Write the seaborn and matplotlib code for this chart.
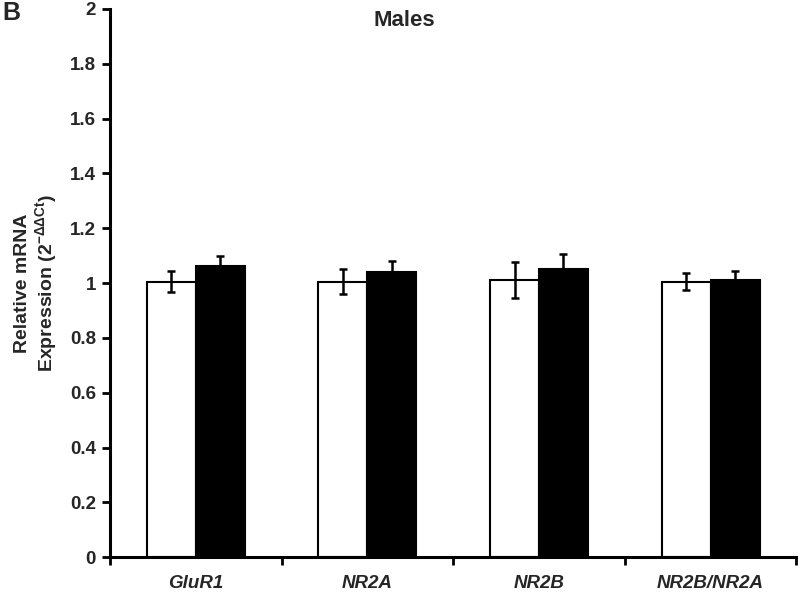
"""Relative mRNA expression in males, two groups per gene."""

import matplotlib
matplotlib.use("Agg")
import matplotlib.pyplot as plt
import numpy as np
import pandas as pd
import seaborn as sns

genes = ["GluR1", "NR2A", "NR2B", "NR2B/NR2A"]
groups = ["Control", "Treated"]
control_mean = [1.005, 1.005, 1.011, 1.005]
control_err = [0.038, 0.045, 0.066, 0.030]
treated_mean = [1.063, 1.039, 1.051, 1.012]
treated_err = [0.036, 0.041, 0.054, 0.032]

df = pd.DataFrame({
    "gene": genes * 2,
    "group": [groups[0]] * 4 + [groups[1]] * 4,
    "value": control_mean + treated_mean,
    "err": control_err + treated_err,
})

sns.set_style("white")
plt.rcParams["font.family"] = ["Liberation Sans", "DejaVu Sans"]
plt.rcParams["mathtext.default"] = "regular"

fig = plt.figure(figsize=(8, 5.94), dpi=100)
ax = fig.add_axes([0.1375, 0.062, 0.858, 0.923])

sns.barplot(
    data=df, x="gene", y="value", hue="group", order=genes, hue_order=groups,
    palette=["white", "black"], edgecolor="black", linewidth=1.5,
    width=0.57, errorbar=None, legend=False, ax=ax,
)

# error bars: match each patch to its gene/group by position
for p in ax.patches:
    cx = p.get_x() + p.get_width() / 2
    gi = int(round(cx))
    grp = groups[0] if cx < gi else groups[1]
    row = df[(df["gene"] == genes[gi]) & (df["group"] == grp)].iloc[0]
    ax.errorbar(cx, row["value"], yerr=row["err"], fmt="none", ecolor="black",
                elinewidth=1.8, capsize=3, capthick=1.8, zorder=5)

ax.set_ylim(0, 2)
ax.set_xlim(-0.5, 3.5)
yt = np.arange(0, 2.01, 0.2)
ax.set_yticks(yt)
ax.set_yticklabels([f"{v:g}" for v in yt], fontsize=13.5, fontweight="bold")

ax.set_xticks(np.arange(-0.5, 3.6, 1.0))
ax.set_xticklabels([])
ax.set_xticks(range(len(genes)), minor=True)
ax.set_xticklabels(genes, minor=True, fontsize=13.5, fontweight="bold", style="italic")
ax.tick_params(axis="x", which="major", direction="out", length=6, width=2,
               bottom=True, color="black")
ax.tick_params(axis="x", which="minor", length=0, pad=13)
ax.tick_params(axis="y", direction="out", length=6, width=2, left=True,
               color="black", pad=4)

for side in ["top", "right"]:
    ax.spines[side].set_visible(False)
for side in ["left", "bottom"]:
    ax.spines[side].set_linewidth(2.2)
    ax.spines[side].set_color("black")

ax.set_xlabel("")
ax.set_ylabel("Relative mRNA\nExpression (2$^{-\\Delta\\Delta Ct}$)",
              fontsize=14, fontweight="bold", labelpad=8, linespacing=1.1)

fig.text(0.506, 0.966, "Males", fontsize=16, fontweight="bold",
         ha="center", va="center")
fig.text(0.003, 0.978, "B", fontsize=18, fontweight="bold",
         ha="left", va="center")

fig.savefig("out.png", dpi=100)
